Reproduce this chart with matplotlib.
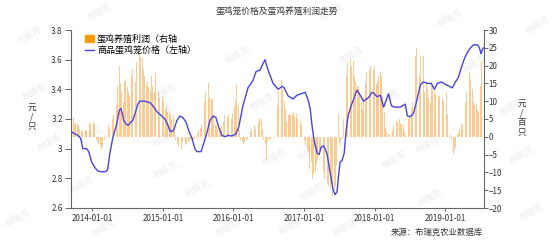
import pandas as pd
from matplotlib import pyplot as plt
from matplotlib.patches import Patch
from matplotlib.lines import Line2D

plt.rcParams['font.family'] = ['Noto Sans CJK SC', 'DejaVu Sans']

# weekly laying-hen profit (元/百只), right axis
profit_start = "2013-09-16"
profit = [
    11.5, 5.5, 3.7, 4.0, 3.5, 3.2, 2.2, 1.8, 1.3, 1.6, 1.8, 1.5, 2.2, 4.0, 3.5, 3.2, 4.1, 3.7,
    -1.0, -1.5, -2.0, -2.4, -3.8, -2.9, -1.0, 0.5, 1.3, 3.2, 2.2, 4.1, 5.0, 6.0, 9.3, 8.8,
    14.4, 20.0, 15.0, 12.5, 9.7, 15.3, 16.3, 14.0, 12.5, 11.6, 17.2, 19.0, 17.0, 15.3, 21.0,
    22.0, 23.5, 22.5,
    22, 19, 17, 14.4, 15.5, 14, 13, 17, 14.4, 12.5, 18, 15, 12.5, 11, 8.8, 11.6, 10, 7.9, 9,
    6.9, 7.3, 6.5, 5, 6, 2.2, -1, -2, -2.5, -2.9, -3.4, -1.5, -1, -2.4, -2.0, -1.5, -1, -0.6,
    -1.3, -0.8, -0.2, -0.6, 0.8, 1.8, 2.5, 3.2, 6.9, 9.7, 12.5, 13.5, 15.0, 11, 10.7,
    10.7, 6.0, 3.7, 3.2, 2.2, 1.5, 2.5, 3.2, 4.1, 6.0, 6.5, 5.5, 6.0, 6.9, 5.0, 6.5, 8.3,
    10.0, 14.9, 9.0, 2.0, -1.0, -1.5, -1.9, -1.5, -1.0, -0.6, 0.5, 1.3, 2.2, 1.8, 3.2, 2.2,
    3.0, 4.1, 5.0, 5.0, 2.0, -1.0, -2.0, -6.6, -1.5, -1.0, -0.5, -0.3, -0.1, -0.2, 0.4, 9.0,
    13.0, 15.8, 16.0,
    13.5, 10.0, 7.9, 4.1, 6.0, 6.5, 6.0, 6.5, 6.9, 5.5, 6.5, 5.0, 4.1, 4.5, 3.2, 1.0, -1.0,
    -2.4, -3.5, -4.3, -9.0, -7.0, -11.8, -10.5, -9.9, -8.0, -6.2, -4.3, -3.4, -7.0, -9.9,
    -11.8, -9.0, -13.0, -13.7, -14.6, -12.7, -16.5, -15.0, -13.7, -8.0, 6.5, -2.4, -1.5,
    -0.5, 5.0, 12.5, 17.2, 21.0, 19.0, 21.9, 20.0,
    21.5, 17.2, 15.5, 14.4, 14.0, 12.5, 9.7, 7.9, 11.1, 15.0, 18.2, 19.6, 18.7, 20.0, 19.5,
    18.7, 19.6, 14.9, 15.8, 17.0, 18.2, 17.2, 11.6, 6.9, 2.5, 1.3, 0.8, 0.4, -0.4, 1.5, 3.2,
    5.0, 4.5, 4.1, 5.0, 4.0, 3.7, 3.2, 1.3, 0.4, -0.1, 5.0, 6.0, 7.9, 9.7, 19.0, 22.8, 25.0,
    20.0, 17.2, 23.0,
    17.0, 22.8, 12.5, 15.4, 13.5, 11.0, 9.7, 15.4, 14.4, 13.0, 12.0, 11.5, 11.1, 11.6, 10.2,
    10.7, 10.0, 14.0, 12.5, 6.5, 0.3, 0.4, -1.0, -4.8, -3.8, -2.9, 0.4, 1.2, 2.2, 3.7, 3.2,
    6.0, 9.7, 12.5, 14.9, 18.2, 16.3, 13.5, 9.7, 8.8, 8.8, 7.4, 7.0, 14.4, 21.0,
]

# commercial laying-hen price (元/只), left axis
price_dates = [
    "2013-09-13", "2013-10-01", "2013-10-17", "2013-11-01", "2013-11-12", "2013-12-02",
    "2013-12-13", "2013-12-28", "2014-01-12", "2014-01-28", "2014-02-13", "2014-03-11",
    "2014-03-21", "2014-03-31", "2014-04-16", "2014-05-07", "2014-05-20", "2014-05-28",
    "2014-06-04", "2014-06-12", "2014-06-28", "2014-07-08", "2014-07-19", "2014-07-29",
    "2014-08-08", "2014-08-24", "2014-09-03", "2014-09-29", "2014-10-25", "2014-11-10",
    "2014-11-30", "2014-12-26", "2015-01-11", "2015-01-26", "2015-02-06", "2015-02-16",
    "2015-02-27", "2015-03-14", "2015-03-30", "2015-04-14", "2015-04-30", "2015-05-15",
    "2015-05-31", "2015-06-15", "2015-06-26", "2015-07-17", "2015-08-01", "2015-08-17",
    "2015-09-01", "2015-09-17", "2015-10-02", "2015-10-18", "2015-11-02", "2015-11-18",
    "2015-12-03", "2015-12-24", "2016-01-14", "2016-01-29", "2016-02-19", "2016-03-16",
    "2016-04-11", "2016-04-27", "2016-05-18", "2016-05-28", "2016-06-12", "2016-06-28",
    "2016-07-24", "2016-08-19", "2016-09-09", "2016-09-19", "2016-10-10", "2016-11-05",
    "2016-11-24", "2016-12-16", "2017-01-06", "2017-01-15", "2017-01-21", "2017-02-01",
    "2017-02-11", "2017-02-22", "2017-03-09", "2017-03-19", "2017-03-30", "2017-04-09",
    "2017-04-19", "2017-04-30", "2017-05-15", "2017-05-31", "2017-06-10", "2017-06-20",
    "2017-06-28", "2017-07-06", "2017-07-16", "2017-07-27", "2017-08-06", "2017-08-16",
    "2017-09-01", "2017-09-13", "2017-10-01", "2017-10-18", "2017-11-04", "2017-11-30",
    "2017-12-18", "2017-12-30", "2018-01-13", "2018-01-30", "2018-02-16", "2018-03-14",
    "2018-03-28", "2018-04-12", "2018-05-13", "2018-06-08", "2018-06-19", "2018-07-04",
    "2018-07-21", "2018-08-08", "2018-08-25", "2018-09-10", "2018-10-01", "2018-10-21",
    "2018-11-06", "2018-11-21", "2018-12-12", "2019-01-07", "2019-01-23", "2019-02-07",
    "2019-02-23", "2019-03-10", "2019-03-26", "2019-04-11", "2019-04-26", "2019-05-12",
    "2019-05-27", "2019-06-17", "2019-06-27", "2019-07-05", "2019-07-13", "2019-07-18",
]
price = [
    3.115, 3.10, 3.09, 3.07, 3.00, 3.00, 2.98, 2.91, 2.875, 2.85, 2.845, 2.845,
    2.86, 2.96, 3.07, 3.17, 3.26, 3.27, 3.24, 3.19, 3.16, 3.16, 3.18, 3.19,
    3.23, 3.30, 3.32, 3.32, 3.31, 3.29, 3.25, 3.22, 3.20, 3.16, 3.12, 3.115,
    3.13, 3.19, 3.22, 3.21, 3.18, 3.12, 3.07, 3.00, 2.98, 2.98, 3.04, 3.11,
    3.19, 3.22, 3.21, 3.14, 3.09, 3.08, 3.09, 3.085, 3.10, 3.15, 3.29, 3.41,
    3.46, 3.52, 3.53, 3.56, 3.60, 3.53, 3.44, 3.40, 3.42, 3.41, 3.355, 3.335,
    3.36, 3.37, 3.38, 3.35, 3.33, 3.27, 3.15, 3.05, 2.97, 2.96, 3.01, 3.02,
    3.00, 2.96, 2.84, 2.72, 2.69, 2.71, 2.82, 2.91, 2.92, 2.97, 3.12, 3.22,
    3.29, 3.33, 3.395, 3.36, 3.32, 3.345, 3.38, 3.37, 3.35, 3.36, 3.28, 3.37,
    3.29, 3.28, 3.28, 3.30, 3.22, 3.215, 3.24, 3.33, 3.43, 3.45, 3.44, 3.44,
    3.40, 3.44, 3.45, 3.43, 3.42, 3.41, 3.45, 3.48, 3.55, 3.61, 3.65, 3.68,
    3.70, 3.70, 3.68, 3.64, 3.67, 3.68,
]

tick_dates = ["2014-01-01", "2015-01-01", "2016-01-01", "2017-01-01", "2018-01-01", "2019-01-01"]

weeks = pd.date_range(profit_start, periods=len(profit), freq="7D")
dates = pd.to_datetime(price_dates)

fig = plt.figure(figsize=(5.54, 2.4), dpi=100)
ax = fig.add_axes([71 / 554, 32 / 240, 412.5 / 554, 178 / 240])
ax2 = ax.twinx()
ax.set_zorder(ax2.get_zorder() + 1)
ax.patch.set_visible(False)

ax2.bar(weeks, profit, width=4.5, color="#FF9F33", alpha=0.55, linewidth=0)
ax.plot(dates, price, color="#4646DC", lw=1.0)

ax.set_xlim(pd.Timestamp("2013-09-12"), pd.Timestamp("2019-07-18"))
ax.set_ylim(2.6, 3.8)
ax2.set_ylim(-20, 30)
ax.set_yticks([2.6, 2.8, 3.0, 3.2, 3.4, 3.6, 3.8])
ax.set_yticklabels(["2.6", "2.8", "3", "3.2", "3.4", "3.6", "3.8"])
ax2.set_yticks(range(-20, 31, 5))
ax.set_xticks(pd.to_datetime(tick_dates))
ax.set_xticklabels(tick_dates)

grey = "#666666"
for a in (ax, ax2):
    a.spines["top"].set_visible(False)
    for s in ("left", "right", "bottom"):
        a.spines[s].set_color(grey)
        a.spines[s].set_linewidth(0.8)
ax.spines["right"].set_visible(False)
ax2.spines["left"].set_visible(False)
ax2.spines["bottom"].set_visible(False)

ax.tick_params(axis="y", length=4.5, width=0.7, color=grey, labelsize=5.8, labelcolor="#333333", pad=1.5)
ax.tick_params(axis="x", length=2.5, width=0.7, color=grey, labelsize=5.8, labelcolor="#333333", pad=1.5)
ax2.tick_params(axis="y", length=3, width=0.7, color=grey, labelsize=5.8, labelcolor="#333333", pad=0.5)

handles = [Patch(color="#FF9900"), Line2D([], [], color="#4646DC", lw=1.0)]
ax.legend(handles, ["蛋鸡养殖利润（右轴", "商品蛋鸡笼价格（左轴）"], loc="upper left",
          bbox_to_anchor=(0.035, 0.975), frameon=False, fontsize=6.5, handlelength=0.9,
          handleheight=0.8, handletextpad=0.4, labelspacing=0.2, borderaxespad=0, borderpad=0)

fig.text(0.5, 1 - 12 / 240, "蛋鸡笼价格及蛋鸡养殖利润走势", ha="center", va="center",
         fontsize=6.3, color="#333333")
fig.text(32 / 554, 1 - 117 / 240, "元\n/\n只", ha="center", va="center", fontsize=6.2,
         color="#333333", linespacing=1.1)
fig.text(522 / 554, 1 - 118 / 240, "元\n/\n百\n只", ha="center", va="center", fontsize=6.2,
         color="#333333", linespacing=1.1)
fig.text(483 / 554, 1 - 232 / 240, "来源：布瑞克农业数据库", ha="right", va="center",
         fontsize=6.0, color="#333333")

# faint watermarks
marks = [(30, 35), (100, 12), (238, 55), (35, 92), (263, 102), (332, 12), (450, 18), (352, 55),
         (475, 64), (538, 25), (388, 98), (512, 107), (50, 143), (92, 134), (166, 170),
         (82, 185), (198, 188), (18, 218), (104, 228), (228, 228), (275, 157), (310, 152),
         (394, 160), (522, 155), (312, 192), (430, 198), (532, 212), (291, 226), (345, 228),
         (165, 92), (165, 138), (428, 145)]
for mx, my in marks:
    fig.text(mx / 554, 1 - my / 240, "布瑞克", ha="center", va="center", rotation=30,
             fontsize=6.5, color="#000000", alpha=0.06, fontweight="bold", zorder=10)

fig.savefig("out.png", dpi=100, facecolor="white")
